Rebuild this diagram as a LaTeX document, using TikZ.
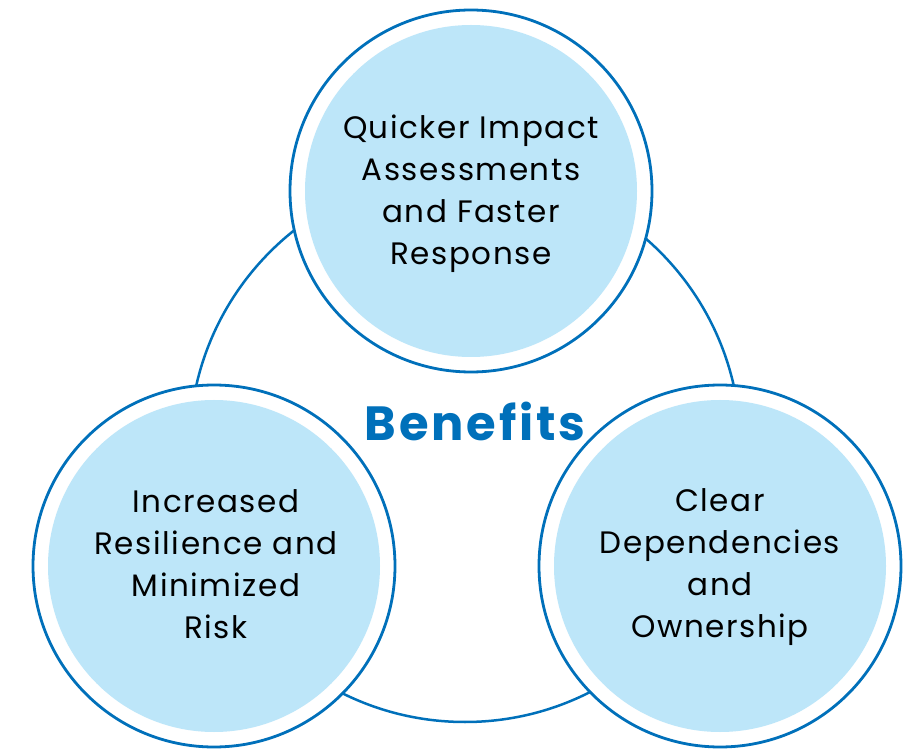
\documentclass[tikz,border=0pt]{standalone}
\usepackage{fontspec}
\setmainfont{Poppins}
\newfontfamily\bodyfont[LetterSpace=5]{Poppins}
\newfontfamily\titlefont[LetterSpace=6]{Poppins}
\definecolor{ringblue}{RGB}{0,112,186}
\definecolor{fillblue}{RGB}{189,230,249}
\tikzset{
  outerring/.style={circle, draw=ringblue, line width=2.8pt, fill=white, minimum size=362pt, inner sep=0pt},
  innerdisc/.style={circle, fill=fillblue, minimum size=332pt, inner sep=0pt},
  label/.style={align=center, font=\bodyfont\fontsize{31}{42}\selectfont, text=black},
  title/.style={font=\titlefont\fontsize{48}{52}\selectfont\bfseries, text=ringblue}
}
\begin{document}
\begin{tikzpicture}[x=1pt,y=-1pt]
\useasboundingbox (0,0) rectangle (914,751);
\node[circle, draw=ringblue, line width=2.5pt, minimum size=551pt, inner sep=0pt] (big) at (465,446.5) {};
\node[outerring] (topc) at (471,191) {};
\node[outerring] (leftc) at (214,566) {};
\node[outerring] (rightc) at (720,566) {};
\node[innerdisc] (topi) at (topc.center) {};
\node[innerdisc] (lefti) at (leftc.center) {};
\node[innerdisc] (righti) at (rightc.center) {};
\node[label] (toptext) at (471,194) {Quicker Impact\\Assessments\\and Faster\\Response};
\node[label] (lefttext) at (216,564) {Increased\\Resilience and\\Minimized\\Risk};
\node[label] (righttext) at (720,567) {Clear\\Dependencies\\and\\Ownership};
\node[title] (bene) at (475,421) {Benefits};
\end{tikzpicture}
\end{document}
